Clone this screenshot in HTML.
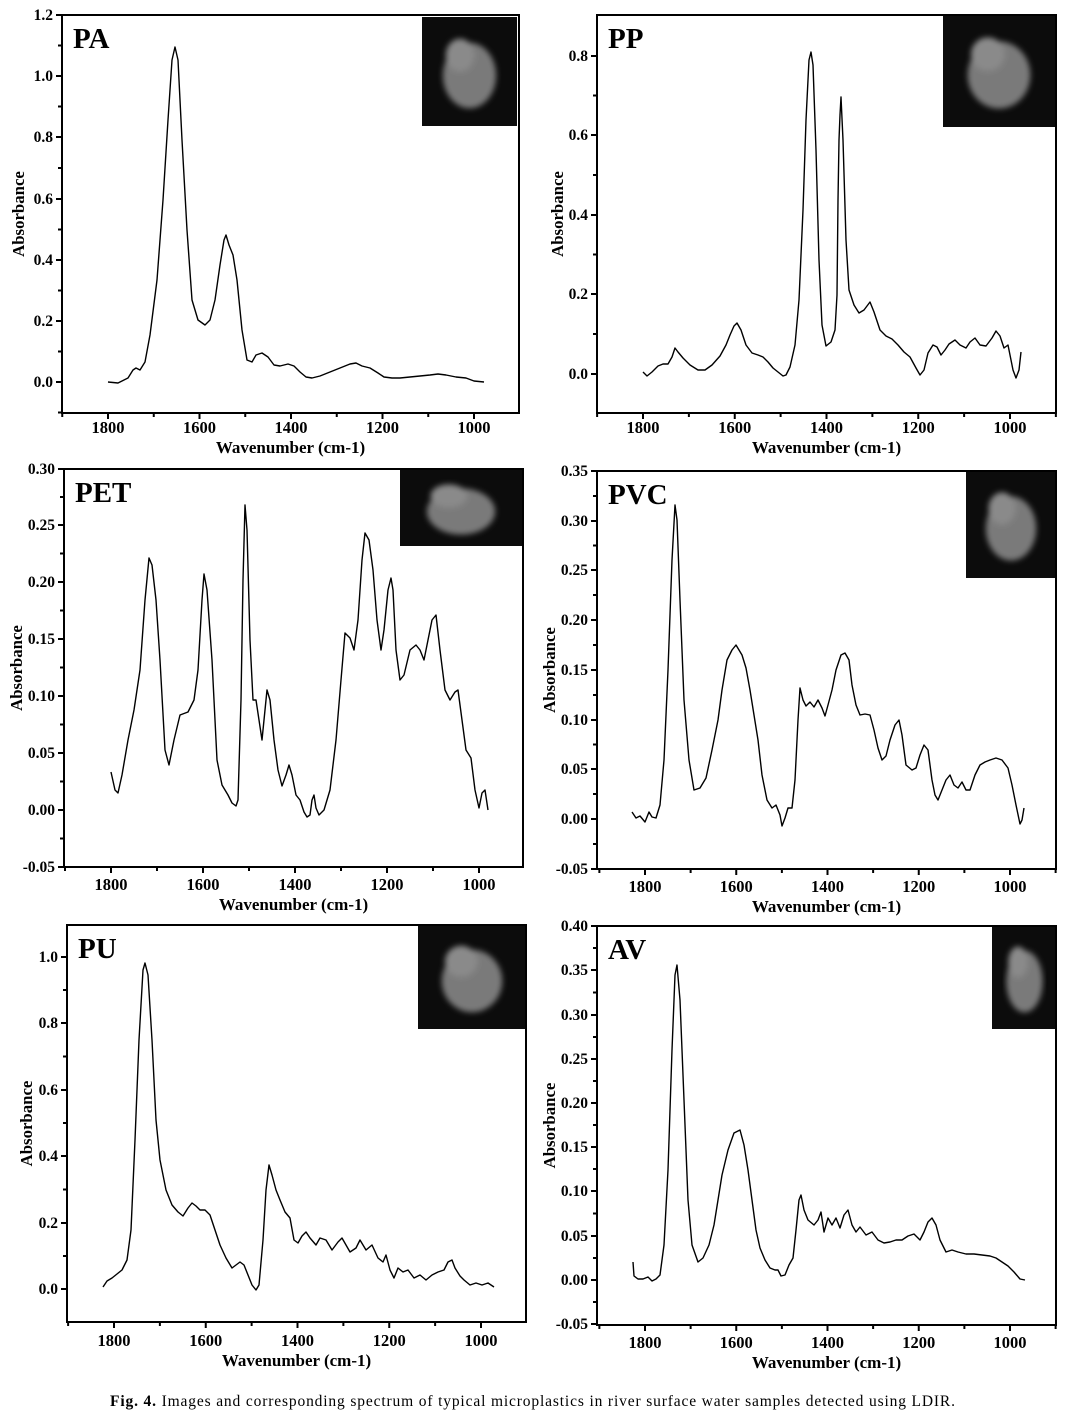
<!DOCTYPE html>
<html><head><meta charset="utf-8"><style>
body{margin:0;background:#fff;}
svg{display:block;font-family:"Liberation Serif",serif;}
</style></head><body>
<svg id="s" width="1077" height="1428" viewBox="0 0 1077 1428" xmlns="http://www.w3.org/2000/svg">
<defs><filter id="bl"><feGaussianBlur stdDeviation="3"/></filter></defs>
<text x="110" y="1406" font-size="15.5" textLength="845" lengthAdjust="spacing"><tspan font-weight="bold">Fig. 4.</tspan> Images and corresponding spectrum of typical microplastics in river surface water samples detected using LDIR.</text>
</svg>
<script>
const S=document.getElementById('s');
function add(h){S.insertAdjacentHTML('beforeend',h);}
const P=[
{l:62,t:15,r:519,b:413,name:'PA',x1800:108,x1000:474,yt:[[1.2,15],[1.0,76],[0.8,137],[0.6,199],[0.4,260],[0.2,321],[0.0,382]],fmt:1,lab:433,tit:453,ax:18,
 inset:[422,17,95,109],
 pts:[[108,382],[118,383],[128,378],[133,370],[136,368],[140,370],[145,362],[150,335],[157,280],[163,200],[168,120],[172,60],[175,47],[178,60],[182,140],[187,230],[192,300],[198,320],[205,325],[210,320],[215,300],[220,265],[224,240],[226,235],[229,245],[233,255],[237,280],[242,330],[247,360],[252,362],[256,355],[262,353],[268,357],[274,365],[280,366],[288,364],[294,366],[300,372],[306,377],[312,378],[320,376],[330,372],[340,368],[350,364],[356,363],[362,366],[370,368],[378,373],[384,377],[392,378],[400,378],[410,377],[420,376],[430,375],[438,374],[446,375],[456,377],[466,378],[474,381],[484,382]]},
{l:597,t:15,r:1056,b:413,name:'PP',x1800:643,x1000:1010,yt:[[0.8,56],[0.6,135],[0.4,215],[0.2,294],[0.0,374]],fmt:1,lab:433,tit:453,ax:557,
 inset:[943,15,112,112],
 pts:[[643,372],[647,376],[652,372],[658,366],[663,364],[668,364],[672,357],[675,348],[678,352],[683,358],[690,365],[698,370],[705,370],[712,365],[720,356],[726,345],[730,335],[734,326],[737,323],[741,330],[746,345],[752,353],[758,355],[763,357],[768,362],[773,368],[778,372],[783,376],[786,375],[790,367],[795,345],[799,300],[803,210],[806,120],[809,60],[811,52],[813,65],[816,150],[819,260],[822,325],[826,346],[831,342],[835,330],[837,295],[838,200],[839,140],[840,115],[841,97],[843,140],[846,240],[849,290],[854,305],[859,313],[864,310],[870,302],[874,312],[880,330],[886,336],[892,339],[898,345],[904,352],[910,357],[916,368],[920,375],[924,370],[928,353],[933,345],[937,347],[941,355],[945,350],[949,344],[955,340],[960,345],[966,348],[970,342],[975,338],[980,345],[986,346],[992,338],[996,331],[1000,336],[1004,348],[1008,345],[1013,370],[1016,378],[1019,370],[1021,352]]},
{l:64,t:469,r:523,b:867,name:'PET',x1800:111,x1000:479,yt:[[0.30,469],[0.25,525],[0.20,582],[0.15,639],[0.10,696],[0.05,753],[0.00,810],[-0.05,867]],fmt:2,lab:890,tit:910,ax:16,
 inset:[400,469,122,77],
 pts:[[111,772],[115,790],[118,793],[122,775],[128,740],[134,710],[140,670],[145,600],[149,558],[152,565],[156,600],[160,660],[165,750],[169,765],[174,740],[180,715],[188,712],[194,700],[198,670],[202,600],[204,574],[207,590],[212,660],[217,760],[222,785],[228,795],[232,803],[236,806],[238,800],[241,700],[243,580],[245,505],[247,530],[250,640],[253,700],[256,700],[259,720],[262,740],[264,720],[267,690],[270,700],[274,740],[278,770],[282,786],[286,775],[289,765],[292,775],[296,795],[300,800],[304,812],[307,817],[310,815],[312,800],[314,795],[316,808],[319,815],[324,810],[330,790],[336,740],[341,680],[345,633],[350,638],[354,650],[358,620],[362,560],[365,533],[369,540],[373,570],[377,620],[381,650],[384,630],[388,590],[391,578],[393,590],[396,650],[400,680],[404,675],[410,650],[416,645],[420,650],[424,660],[428,640],[432,620],[436,615],[440,650],[445,690],[450,700],[455,692],[458,690],[462,720],[466,750],[471,758],[475,790],[479,808],[482,793],[485,790],[488,810]]},
{l:597,t:471,r:1056,b:869,name:'PVC',x1800:645,x1000:1010,yt:[[0.35,471],[0.30,521],[0.25,570],[0.20,620],[0.15,670],[0.10,720],[0.05,769],[0.00,819],[-0.05,869]],fmt:2,lab:892,tit:912,ax:549,
 inset:[966,471,90,107],
 pts:[[632,812],[636,818],[640,816],[645,822],[649,812],[652,817],[656,818],[660,805],[664,760],[668,670],[672,560],[675,505],[677,520],[680,600],[684,700],[689,760],[694,790],[700,788],[706,778],[712,750],[718,720],[722,690],[727,660],[732,650],[736,645],[742,655],[746,668],[750,690],[754,715],[758,740],[762,775],[767,800],[772,808],[776,805],[780,815],[782,826],[785,818],[788,808],[792,808],[795,780],[798,720],[800,688],[803,700],[806,706],[810,702],[814,707],[818,700],[822,708],[825,716],[828,705],[832,690],[836,670],[841,655],[845,653],[849,660],[852,685],[856,705],[860,715],[865,714],[870,715],[874,730],[878,748],[882,760],[886,756],[890,740],[895,725],[899,720],[902,735],[906,765],[912,770],[916,768],[920,755],[924,745],[928,750],[932,780],[935,795],[938,800],[942,790],[946,780],[950,775],[954,785],[958,788],[962,782],[966,790],[970,790],[975,775],[980,765],[985,762],[990,760],[996,758],[1002,760],[1008,768],[1012,785],[1016,805],[1020,824],[1022,820],[1024,808]]},
{l:67,t:925,r:526,b:1322,name:'PU',x1800:114,x1000:481,yt:[[1.0,957],[0.8,1023],[0.6,1090],[0.4,1156],[0.2,1223],[0.0,1289]],fmt:1,lab:1346,tit:1366,ax:26,
 inset:[418,925,108,104],
 pts:[[103,1287],[107,1281],[112,1278],[117,1274],[122,1270],[127,1260],[131,1230],[135,1140],[139,1040],[143,970],[145,963],[148,975],[152,1040],[156,1120],[160,1160],[166,1190],[172,1205],[178,1212],[183,1216],[188,1208],[192,1203],[196,1206],[200,1210],[205,1210],[210,1215],[215,1230],[220,1245],[226,1258],[232,1268],[236,1265],[240,1262],[244,1265],[248,1275],[252,1285],[256,1290],[259,1285],[263,1240],[266,1190],[269,1165],[272,1175],[276,1190],[280,1200],[285,1212],[290,1218],[294,1240],[298,1243],[302,1236],[306,1232],[310,1238],[316,1245],[320,1238],[326,1240],[332,1250],[338,1242],[342,1238],[346,1245],[350,1252],[356,1248],[360,1240],[366,1250],[372,1245],[378,1258],[383,1262],[386,1255],[390,1270],[394,1278],[398,1268],[403,1272],[408,1270],[414,1278],[420,1275],[426,1280],[432,1275],[438,1272],[444,1270],[448,1262],[452,1260],[455,1268],[460,1276],[464,1280],[470,1285],[476,1283],[482,1285],[488,1283],[494,1287]]},
{l:597,t:926,r:1056,b:1325,name:'AV',x1800:645,x1000:1010,yt:[[0.40,926],[0.35,970],[0.30,1015],[0.25,1059],[0.20,1103],[0.15,1147],[0.10,1191],[0.05,1236],[0.00,1280],[-0.05,1324]],fmt:2,lab:1348,tit:1368,ax:549,
 inset:[992,926,65,103],
 pts:[[633,1262],[634,1276],[638,1279],[643,1279],[648,1277],[652,1281],[656,1279],[660,1275],[664,1245],[668,1170],[672,1050],[675,975],[677,965],[680,1000],[684,1100],[688,1200],[692,1245],[698,1262],[703,1258],[709,1245],[714,1225],[718,1200],[722,1175],[728,1150],[734,1133],[740,1130],[744,1145],[748,1170],[752,1200],[756,1230],[760,1248],[765,1260],[770,1268],[775,1270],[778,1270],[781,1276],[785,1275],[789,1265],[793,1258],[796,1230],[799,1200],[801,1195],[804,1210],[808,1220],[814,1225],[818,1220],[821,1212],[824,1232],[828,1218],[832,1225],[836,1218],[840,1228],[844,1215],[848,1210],[852,1225],[856,1232],[860,1227],[866,1235],[872,1232],[878,1240],[884,1243],[890,1242],[896,1240],[902,1240],[908,1236],[914,1234],[920,1240],[924,1232],[928,1222],[932,1218],[936,1225],[940,1240],[946,1252],[952,1250],[958,1252],[966,1254],[974,1254],[982,1255],[990,1256],[996,1258],[1002,1262],[1008,1266],[1014,1272],[1020,1279],[1025,1280]]}
];
let h='';
P.forEach(p=>{
 const [ix,iy,iw,ih]=p.inset;
 h+=`<rect x="${ix}" y="${iy}" width="${iw}" height="${ih}" fill="#0c0c0c"/>`;
 const cx=ix+iw/2, cy=iy+ih/2;
 h+=`<g filter="url(#bl)"><ellipse cx="${cx}" cy="${cy+4}" rx="${iw*0.28}" ry="${ih*0.3}" fill="#7a7a7a"/><ellipse cx="${cx-iw*0.1}" cy="${cy-ih*0.15}" rx="${iw*0.15}" ry="${ih*0.15}" fill="#8a8a8a"/></g>`;
 h+=`<rect x="${p.l}" y="${p.t}" width="${p.r-p.l}" height="${p.b-p.t}" fill="none" stroke="#000" stroke-width="2"/>`;
 const yt=p.yt;
 yt.forEach((v,i)=>{
  h+=`<line x1="${p.l-6}" y1="${v[1]}" x2="${p.l}" y2="${v[1]}" stroke="#000" stroke-width="2"/>`;
  h+=`<text x="${p.l-9}" y="${v[1]+5}" text-anchor="end" font-size="15.5" font-weight="bold">${v[0].toFixed(p.fmt)}</text>`;
  if(i<yt.length-1){const m=(v[1]+yt[i+1][1])/2;h+=`<line x1="${p.l-4}" y1="${m}" x2="${p.l}" y2="${m}" stroke="#000" stroke-width="2"/>`;}
 });
 const yl=yt[yt.length-1][1], dy=yt[yt.length-1][1]-yt[yt.length-2][1];
 if(yl+dy/2<p.b)h+=`<line x1="${p.l-4}" y1="${yl+dy/2}" x2="${p.l}" y2="${yl+dy/2}" stroke="#000" stroke-width="2"/>`;
 const sp=(p.x1000-p.x1800)/4;
 for(let k=-1;k<=5;k++){
  const x=p.x1800+k*sp;
  if(k>=0&&k<=4){h+=`<line x1="${x}" y1="${p.b}" x2="${x}" y2="${p.b+6}" stroke="#000" stroke-width="2"/>`;
   h+=`<text x="${x}" y="${p.lab}" text-anchor="middle" font-size="16.5" font-weight="bold">${1800-200*k}</text>`;}
  const m=x+sp/2; if(m>p.l&&m<p.r)h+=`<line x1="${m}" y1="${p.b}" x2="${m}" y2="${p.b+4}" stroke="#000" stroke-width="2"/>`;
 }
 h+=`<text x="${(p.l+p.r)/2}" y="${p.tit}" text-anchor="middle" font-size="17" font-weight="bold">Wavenumber (cm-1)</text>`;
 const ym=(p.t+p.b)/2;
 h+=`<text transform="translate(${p.ax+6},${ym}) rotate(-90)" text-anchor="middle" font-size="16.8" font-weight="bold">Absorbance</text>`;
 h+=`<text x="${p.l+11}" y="${p.t+33}" font-size="29" font-weight="bold">${p.name}</text>`;
 h+=`<polyline fill="none" stroke="#000" stroke-width="1.4" stroke-linejoin="round" points="${p.pts.map(q=>q.join(',')).join(' ')}"/>`;
});
add(h);
</script>
</body></html>
